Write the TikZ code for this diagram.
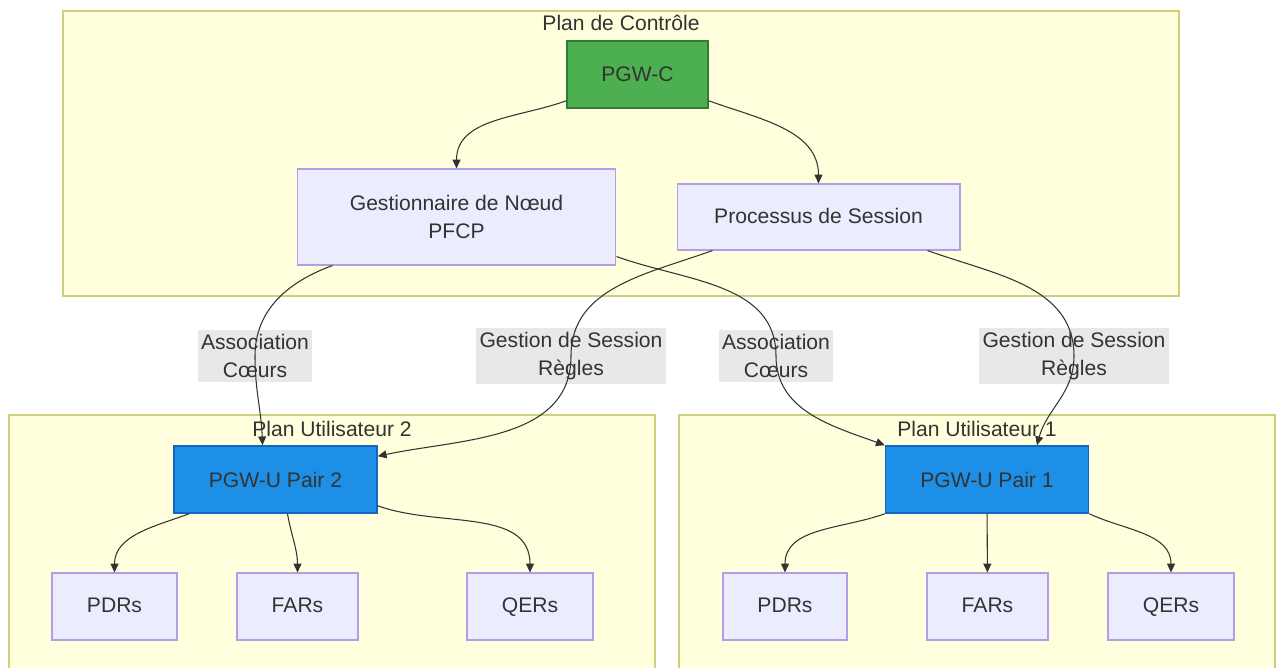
\documentclass[tikz,border=0pt]{standalone}
\usepackage{fontspec}
\setmainfont{Liberation Sans}
\usepackage{tikz}
\usetikzlibrary{
  arrows.meta,
  positioning,
  calc,
  backgrounds
}
\definecolor{planefill}{HTML}{FFFFDE}
\definecolor{planeborder}{HTML}{CFCF7A}
\definecolor{boxfill}{HTML}{ECECFF}
\definecolor{boxborder}{HTML}{B39DE6}
\definecolor{ctrlgreen}{HTML}{4CAF50}
\definecolor{ctrlborder}{HTML}{2E7D32}
\definecolor{userblue}{HTML}{1E8FE6}
\definecolor{userborder}{HTML}{1565C0}
\definecolor{labelgray}{HTML}{E8E8E8}
\definecolor{inkgray}{HTML}{333333}
\tikzset{
  plane/.style={
    rectangle, draw=planeborder, fill=planefill, line width=0.7pt, inner sep=0pt
  },
  planetitle/.style={font=\fontsize{12}{15}\selectfont, text=inkgray, inner sep=0pt},
  rulebox/.style={
    rectangle, draw=boxborder, fill=boxfill, line width=0.6pt,
    minimum height=1.34cm, inner sep=0pt,
    font=\fontsize{12}{16}\selectfont, text=inkgray, align=center
  },
  leafbox/.style={rulebox, text height=1.6ex, text depth=0.3ex},
  gateway/.style={
    rectangle, draw=#1, line width=0.9pt,
    minimum width=4.06cm, minimum height=1.34cm, inner sep=0pt,
    font=\fontsize{12}{16}\selectfont, text=inkgray
  },
  edgelabel/.style={
    rectangle, fill=labelgray, inner xsep=2pt, inner ysep=2.5pt,
    font=\fontsize{12}{16}\selectfont, text=inkgray, align=center
  },
  arrow/.style={-{Triangle[length=5pt, width=4.5pt]}, draw=inkgray, line width=0.6pt},
}

\begin{document}
\begin{tikzpicture}[x=0.02cm, y=0.02cm]

\useasboundingbox (0,0) rectangle (1276,-668);

% Planes
\node[plane, minimum width=22.32cm, minimum height=5.7cm] (ctrl) at (621,-153.5) {};
\node[planetitle] (ctrltitle) at (621,-23) {Plan de Contrôle};
\node[plane, minimum width=12.92cm, minimum height=5.3cm] (user2) at (332,-547.5) {};
\node[planetitle] (user2title) at (332,-429) {Plan Utilisateur 2};
\node[plane, minimum width=11.92cm, minimum height=5.3cm] (user1) at (977,-547.5) {};
\node[planetitle] (user1title) at (977,-429) {Plan Utilisateur 1};

% Control plane
\node[gateway=ctrlborder, fill=ctrlgreen, minimum width=2.82cm] (pgwc) at (637.5,-74.5) {PGW-C};
\node[rulebox, minimum width=6.38cm, minimum height=1.92cm] (gest) at (456.5,-217) {Gestionnaire de Nœud\\PFCP};
\node[leafbox, minimum width=5.66cm, minimum height=1.32cm] (proc) at (818.5,-217) {Processus de Session};

% User planes
\node[gateway=userborder, fill=userblue] (pair2) at (275.5,-479.5) {PGW-U Pair 2};
\node[gateway=userborder, fill=userblue] (pair1) at (987,-479.5) {PGW-U Pair 1};

\node[leafbox, minimum width=2.5cm] (pdr2) at (114.5,-606.5) {PDRs};
\node[leafbox, minimum width=2.42cm] (far2) at (297.5,-606.5) {FARs};
\node[leafbox, minimum width=2.52cm] (qer2) at (530,-606.5) {QERs};
\node[leafbox, minimum width=2.48cm] (pdr1) at (785,-606.5) {PDRs};
\node[leafbox, minimum width=2.42cm] (far1) at (987.5,-606.5) {FARs};
\node[leafbox, minimum width=2.52cm] (qer1) at (1171,-606.5) {QERs};

% Edge labels
\node[edgelabel] (assoc2) at (255,-356) {Association\\Cœurs};
\node[edgelabel] (sess2) at (571,-356) {Gestion de Session\\Règles};
\node[edgelabel] (assoc1) at (776,-356) {Association\\Cœurs};
\node[edgelabel] (sess1) at (1074,-356) {Gestion de Session\\Règles};

% Arrows
\draw[arrow] ($(pgwc.south west)+(0,8)$) to[out=200, in=90] (gest.north);
\draw[arrow] ($(pgwc.south east)+(0,8)$) to[out=-20, in=90] (proc.north);

\draw[arrow] ($(gest.south west)+(36,0)$) to[out=200, in=90] (assoc2.center)
  to[out=-90, in=92] ($(pair2.north)+(-13,0)$);
\draw[arrow] ($(proc.south west)+(36,0)$) to[out=200, in=90] (sess2.center)
  to[out=-90, in=12] ($(pair2.north east)+(0,-11)$);
\draw[arrow] ($(gest.south east)+(0,9)$) to[out=-20, in=90] (assoc1.center)
  to[out=-90, in=160] (pair1.north west);
\draw[arrow] ($(proc.south east)+(-33,0)$) to[out=-20, in=90] (sess1.center)
  to[out=-90, in=75] ($(pair1.north)+(50,0)$);

\draw[arrow] ($(pair2.south west)+(16,0)$) to[out=200, in=90] (pdr2.north);
\draw[arrow] ($(pair2.south)+(12,0)$) to[out=-80, in=90] (far2.north);
\draw[arrow] ($(pair2.south east)+(0,8)$) to[out=-20, in=90] (qer2.north);
\draw[arrow] (pair1.south west) to[out=200, in=90] (pdr1.north);
\draw[arrow] (pair1) -- (far1);
\draw[arrow] (pair1.south east) to[out=-25, in=90] (qer1.north);

\end{tikzpicture}
\end{document}
